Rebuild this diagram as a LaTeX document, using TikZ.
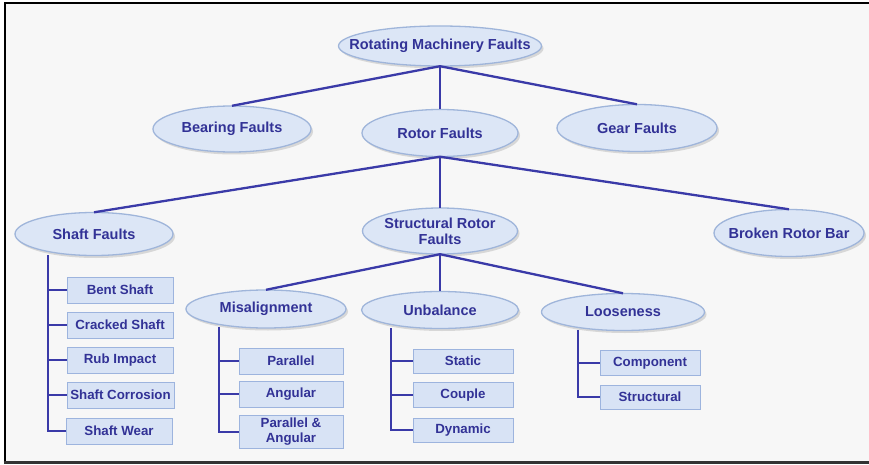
\documentclass[tikz,border=0pt]{standalone}
\usepackage{fontspec}
\setmainfont{Liberation Sans}
\usetikzlibrary{shapes.geometric}
\definecolor{bgc}{HTML}{F7F7F7}
\definecolor{txc}{RGB}{50,50,150}
\definecolor{lnc}{RGB}{58,58,168}
\definecolor{elf}{HTML}{DCE6F6}
\definecolor{eld}{HTML}{9FB5DA}
\definecolor{bxf}{HTML}{D8E3F5}
\definecolor{bxd}{HTML}{9DB4DE}
\tikzset{
  ovaltext/.style={rectangle, inner sep=0pt, text=txc,
    font=\fontsize{14.5}{16}\selectfont\bfseries, align=center},
  ovalline/.style={draw=eld, fill=elf, line width=1.3pt},
  ovalshadow/.style={fill=black!60, opacity=0.22},
  leaf/.style={rectangle, draw=bxd, line width=1pt, fill=bxf, inner sep=0pt,
    text=txc, font=\fontsize{13.3}{15}\selectfont\bfseries, align=center},
  conn/.style={draw=lnc, line width=2.3pt},
}
\newcommand\ovalnode[5]{%
  \fill[ovalshadow, shift={(#2)}] (2,2.5) ellipse [x radius=#3/2, y radius=#4/2];
  \draw[ovalline, shift={(#2)}] (0,0) ellipse [x radius=#3/2, y radius=#4/2];
  \node[ovaltext, minimum width=#3pt, minimum height=#4pt] (#1) at (#2) {#5};}
\begin{document}
\begin{tikzpicture}[x=1pt,y=-1pt]
\useasboundingbox (0,0) rectangle (869,465);
\fill[white] (0,0) rectangle (869,465);
\fill[bgc] (5,3) rectangle (869,462);
\draw[black, line width=2.5pt] (5,462) -- (5,3) -- (869,3);
\draw[black!80, line width=2.5pt] (3.5,462.5) -- (869,462.5);

% level 0
\ovalnode{root}{440,46}{203}{40}{Rotating Machinery Faults}
% level 1
\ovalnode{bear}{232,129}{158}{46}{Bearing Faults}
\ovalnode{rotor}{440,133}{156}{47}{Rotor Faults}
\ovalnode{gear}{637,128}{160}{47}{Gear Faults}
% level 2
\ovalnode{shaft}{94,234}{158}{43}{Shaft Faults}
\ovalnode{struct}{440,231}{155}{46}{Structural Rotor\\Faults}
\ovalnode{broken}{789,233}{150}{47}{Broken Rotor Bar}
% level 3
\ovalnode{mis}{266,309}{160}{38}{Misalignment}
\ovalnode{unb}{440,310}{157}{37}{Unbalance}
\ovalnode{loose}{623,312}{163}{37}{Looseness}

% edges
\draw[conn] (root.south) -- (bear.north);
\draw[conn] (root.south) -- (rotor.north);
\draw[conn] (root.south) -- (gear.north);
\draw[conn] (rotor.south) -- (shaft.north);
\draw[conn] (rotor.south) -- (struct.north);
\draw[conn] (rotor.south) -- (broken.north);
\draw[conn] (struct.south) -- (mis.north);
\draw[conn] (struct.south) -- (unb.north);
\draw[conn] (struct.south) -- (loose.north);

% shaft leaves
\node[leaf, minimum width=106pt, minimum height=26pt] (bent) at (120,290) {Bent Shaft};
\node[leaf, minimum width=106pt, minimum height=26pt] (crack) at (120,325) {Cracked Shaft};
\node[leaf, minimum width=106pt, minimum height=26pt] (rub) at (120,360) {Rub Impact};
\node[leaf, minimum width=107pt, minimum height=26pt] (corr) at (120.5,395) {Shaft Corrosion};
\node[leaf, minimum width=106pt, minimum height=26pt] (wear) at (119,431) {Shaft Wear};
\coordinate (sv) at (48,255);
\draw[conn] (sv) |- (wear.west);
\foreach \n in {bent,crack,rub,corr} \draw[conn] (sv |- \n.west) -- (\n.west);

% misalignment leaves
\node[leaf, minimum width=104pt, minimum height=26pt] (par) at (291,361) {Parallel};
\node[leaf, minimum width=104pt, minimum height=26pt] (ang) at (291,394) {Angular};
\node[leaf, minimum width=104pt, minimum height=33pt] (parang) at (291,432) {Parallel \&\\Angular};
\coordinate (mv) at (219,327);
\draw[conn] (mv) |- (parang.west);
\foreach \n in {par,ang} \draw[conn] (mv |- \n.west) -- (\n.west);

% unbalance leaves
\node[leaf, minimum width=100pt, minimum height=24pt] (stat) at (463,361) {Static};
\node[leaf, minimum width=100pt, minimum height=25pt] (coup) at (463,395) {Couple};
\node[leaf, minimum width=100pt, minimum height=24pt] (dyn) at (463,430) {Dynamic};
\coordinate (uv) at (391,328);
\draw[conn] (uv) |- (dyn.west);
\foreach \n in {stat,coup} \draw[conn] (uv |- \n.west) -- (\n.west);

% looseness leaves
\node[leaf, minimum width=100pt, minimum height=25pt] (comp) at (650,363) {Component};
\node[leaf, minimum width=100pt, minimum height=24pt] (structl) at (650,397) {Structural};
\coordinate (lv) at (578,330);
\draw[conn] (lv) |- (structl.west);
\draw[conn] (lv |- comp.west) -- (comp.west);
\end{tikzpicture}
\end{document}
